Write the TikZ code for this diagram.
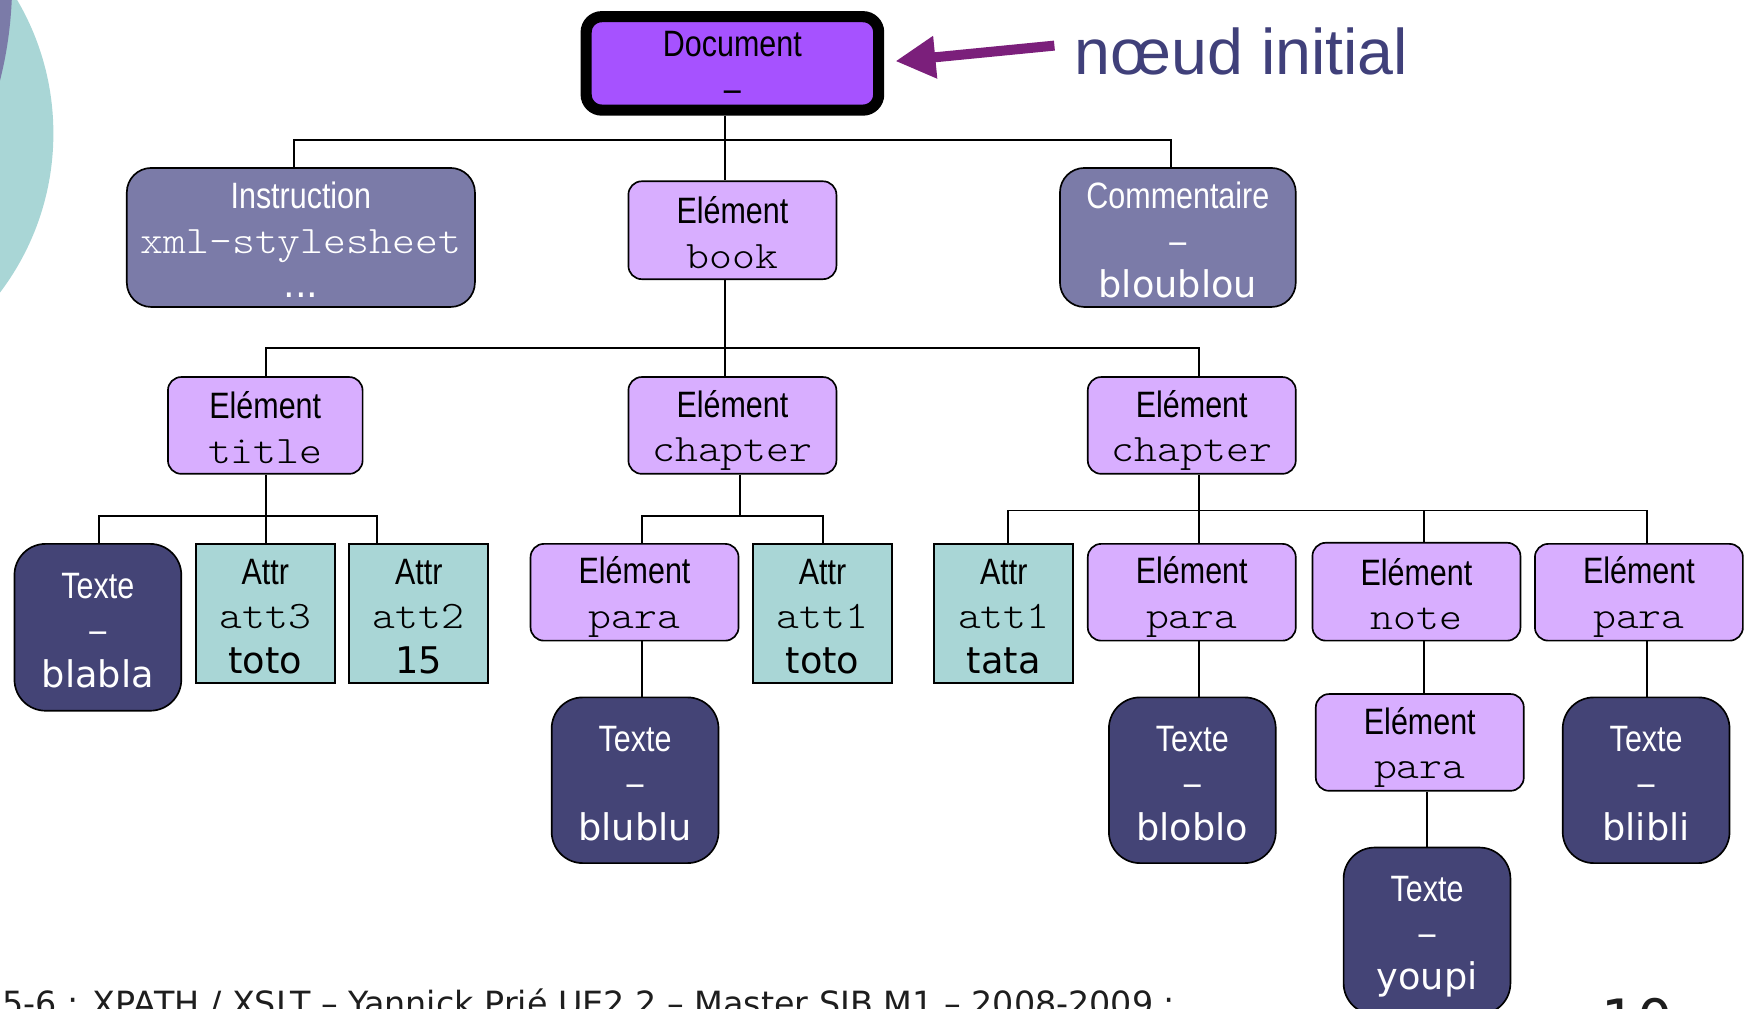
\documentclass[tikz,border=0pt]{standalone}
\usepackage{fontspec}
\setmainfont{Liberation Sans}
\newfontfamily\nar[FakeStretch=0.83]{Liberation Sans}
\newfontfamily\val{DejaVu Sans}
\newfontfamily\mono[FakeStretch=1.12]{lmmonolt10-regular.otf}
\usetikzlibrary{arrows.meta}

\definecolor{docfill}{RGB}{166,82,255}
\definecolor{elemfill}{RGB}{216,174,255}
\definecolor{instrfill}{RGB}{123,123,168}
\definecolor{textfill}{RGB}{68,68,118}
\definecolor{attrfill}{RGB}{169,214,214}
\definecolor{arrowc}{RGB}{123,31,123}
\definecolor{labelc}{RGB}{64,64,122}
\definecolor{footc}{RGB}{30,30,30}

% uniform line box for every text line inside the nodes
\newcommand\bxs{\rule[-5pt]{0pt}{38pt}}
\newcommand\boxfont{\fontsize{33}{40}\selectfont\lineskiplimit=-100pt\relax}
\newcommand\code[1]{{\mono\fontsize{35}{40}\selectfont #1\bxs}}

\begin{document}
\begin{tikzpicture}[x=1pt,y=-1pt,
  box/.style={draw=black,line width=1.5pt,inner sep=0pt,align=center,font=\boxfont},
  docbox/.style={box,fill=docfill,line width=10pt,rounded corners=14pt,
                 minimum width=263pt,minimum height=84pt},
  elembox/.style={box,fill=elemfill,rounded corners=12pt,
                  minimum width=187pt,minimum height=87pt},
  instrbox/.style={box,fill=instrfill,text=white,rounded corners=22pt,minimum height=125pt},
  textbox/.style={box,fill=textfill,text=white,rounded corners=28pt,
                  minimum width=150pt,minimum height=150pt},
  attrbox/.style={box,fill=attrfill,minimum width=125pt,minimum height=125pt},
  conn/.style={draw=black,line width=1.6pt},
  pointer/.style={draw=arrowc,line width=9pt,-{Triangle[length=36pt,width=36pt]}}
]
\useasboundingbox (0,0) rectangle (1568,907);
\clip (0,0) rectangle (1568,907);

% decorative discs at the left edge
\fill[attrfill] (-189,120) circle[radius=237];
\fill[instrfill] (-135,-18) ellipse[x radius=146,y radius=237];

% root
\node[docbox] (doc) at (658.5,57) {{\nar Document\bxs}\\{\nar –\bxs}};
\node[anchor=base west,font=\fontsize{58}{60}\selectfont,text=labelc,inner sep=0pt]
  (lbl) at (966,67) {nœud initial};
\coordinate (tail) at (948,41);
\draw[pointer] (tail) -- ([xshift=10pt,yshift=2pt]doc.east);

% first level
\node[instrbox,minimum width=313pt] (instr) at (270.5,213.5)
  {{\nar Instruction\bxs}\\\code{xml-stylesheet}\\{\val ...\bxs}};
\node[elembox,minimum height=88pt] (book) at (658.5,207)
  {{\nar Elément\bxs}\\\code{book}};
\node[instrbox,minimum width=212pt] (comm) at (1059,213.5)
  {{\nar Commentaire\bxs}\\{\nar –\bxs}\\{\val bloublou\bxs}};

% second level
\node[elembox,minimum width=175pt] (title) at (238.5,382.5)
  {{\nar Elément\bxs}\\\code{title}};
\node[elembox] (chapA) at (658.5,382.5)
  {{\nar Elément\bxs}\\\code{chapter}};
\node[elembox] (chapB) at (1071.5,382.5)
  {{\nar Elément\bxs}\\\code{chapter}};

% third level
\node[textbox] (blabla) at (88,564)
  {{\nar Texte\bxs}\\{\nar –\bxs}\\{\val blabla\bxs}};
\node[attrbox] (att3) at (238.5,551.5)
  {{\nar Attr\bxs}\\\code{att3}\\{\val toto\bxs}};
\node[attrbox] (att2) at (376.5,551.5)
  {{\nar Attr\bxs}\\\code{att2}\\{\val 15\bxs}};
\node[elembox] (paraA) at (570.5,532.5)
  {{\nar Elément\bxs}\\\code{para}};
\node[attrbox] (att1a) at (739.5,551.5)
  {{\nar Attr\bxs}\\\code{att1}\\{\val toto\bxs}};
\node[attrbox] (tata) at (902.5,551.5)
  {{\nar Attr\bxs}\\\code{att1}\\{\val tata\bxs}};
\node[elembox] (paraB) at (1071.5,532.5)
  {{\nar Elément\bxs}\\\code{para}};
\node[elembox,minimum height=88pt] (note) at (1273.5,532)
  {{\nar Elément\bxs}\\\code{note}};
\node[elembox] (paraD) at (1473.5,532.5)
  {{\nar Elément\bxs}\\\code{para}};

% fourth level
\node[textbox,minimum height=149pt] (blublu) at (571,701.5)
  {{\nar Texte\bxs}\\{\nar –\bxs}\\{\val blublu\bxs}};
\node[textbox,minimum height=149pt] (bloblo) at (1072,701.5)
  {{\nar Texte\bxs}\\{\nar –\bxs}\\{\val bloblo\bxs}};
\node[elembox] (paraC) at (1276.5,667.5)
  {{\nar Elément\bxs}\\\code{para}};
\node[textbox,minimum height=149pt] (blibli) at (1480,701.5)
  {{\nar Texte\bxs}\\{\nar –\bxs}\\{\val blibli\bxs}};
\node[textbox] (youpi) at (1283,837)
  {{\nar Texte\bxs}\\{\nar –\bxs}\\{\val youpi\bxs}};

% tree connectors
\draw[conn] (doc.south -| 652,0) -- (book.north -| 652,0);
\draw[conn] (instr.north -| 264,0) -- (264,126) -- (1053,126) -- (comm.north -| 1053,0);

\draw[conn] (book.south -| 652,0) -- (chapA.north -| 652,0);
\draw[conn] (title.north -| 239,0) -- (239,313) -- (1078,313) -- (chapB.north -| 1078,0);

\draw[conn] (title.south -| 239,0) -- (att3.north -| 239,0);
\draw[conn] (blabla.north -| 89,0) -- (89,464) -- (339,464) -- (att2.north -| 339,0);

\draw[conn] (chapA.south -| 665,0) -- (665,464);
\draw[conn] (paraA.north -| 577,0) -- (577,464) -- (740,464) -- (att1a.north -| 740,0);

\draw[conn] (chapB.south -| 1078,0) -- (paraB.north -| 1078,0);
\draw[conn] (tata.north -| 906,0) -- (906,459) -- (1481,459) -- (paraD.north -| 1481,0);
\draw[conn] (note.north -| 1280,0) -- (1280,459);

\draw[conn] (paraA.south -| 577,0) -- (blublu.north -| 577,0);
\draw[conn] (paraB.south -| 1078,0) -- (bloblo.north -| 1078,0);
\draw[conn] (note.south -| 1280,0) -- (paraC.north -| 1280,0);
\draw[conn] (paraC.south -| 1283,0) -- (youpi.north -| 1283,0);
\draw[conn] (paraD.south -| 1481,0) -- (blibli.north -| 1481,0);

% footer and page number
\node[anchor=base west,inner sep=0pt,font=\val\fontsize{30}{32}\selectfont,text=footc]
  (foot) at (-17,913) {15-6 : XPATH / XSLT – Yannick Prié UE2.2 – Master SIB M1 – 2008-2009 :};
\node[anchor=base west,inner sep=0pt,font=\val\fontsize{50}{52}\selectfont,text=footc]
  (pnum) at (1440,935) {10};
\end{tikzpicture}
\end{document}
